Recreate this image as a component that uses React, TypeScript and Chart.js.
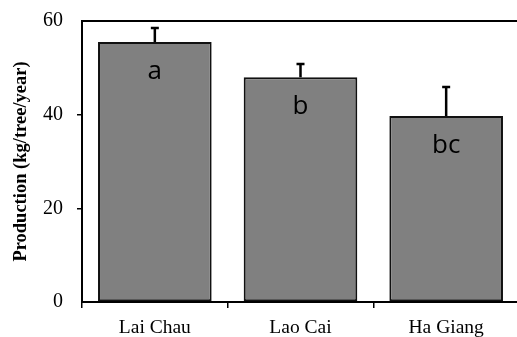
import React, { useEffect, useRef } from "react";
import { Chart, registerables } from "chart.js";

Chart.register(...registerables);

const categories = ["Lai Chau", "Lao Cai", "Ha Giang"];
const production = [55.5, 48.0, 39.7];
const errors = [3.0, 2.8, 6.2];
const letters = ["a", "b", "bc"];
const yTicks = [0, 20, 40, 60];

const extrasPlugin = {
  id: "extras",
  afterDatasetsDraw(chart: any) {
    const ctx = chart.ctx;
    const meta = chart.getDatasetMeta(0);
    const y = chart.scales.y;
    const area = chart.chartArea;
    ctx.save();
    ctx.strokeStyle = "#000";
    ctx.lineWidth = 2;
    ctx.beginPath();
    ctx.moveTo(area.left - 1, area.top);
    ctx.lineTo(chart.width, area.top);
    ctx.stroke();
    meta.data.forEach((bar: any, i: number) => {
      const top = y.getPixelForValue(production[i] + errors[i]);
      ctx.strokeStyle = "#000";
      ctx.lineWidth = 2.5;
      ctx.beginPath();
      ctx.moveTo(bar.x, bar.y);
      ctx.lineTo(bar.x, top);
      ctx.moveTo(bar.x - 4, top);
      ctx.lineTo(bar.x + 4, top);
      ctx.stroke();
      ctx.fillStyle = "#000";
      ctx.font = '26px "Open Sans"';
      ctx.textAlign = "center";
      ctx.textBaseline = "alphabetic";
      ctx.fillText(letters[i], bar.x, bar.y + 37);
    });
    ctx.restore();
  },
};

export default function App() {
  const ref = useRef<HTMLCanvasElement | null>(null);
  useEffect(() => {
    if (!ref.current) return;
    Chart.defaults.color = "#000";
    const chart = new Chart(ref.current, {
      type: "bar",
      data: {
        labels: categories,
        datasets: [
          {
            data: production,
            backgroundColor: "#808080",
            borderColor: "#111",
            borderWidth: 2,
            borderSkipped: false,
            barPercentage: 0.78,
            categoryPercentage: 1,
          },
        ],
      },
      options: {
        animation: false,
        responsive: true,
        maintainAspectRatio: false,
        layout: { padding: { top: 21, right: 3, left: 0, bottom: 0 } },
        plugins: { legend: { display: false }, tooltip: { enabled: false } },
        scales: {
          x: {
            offset: true,
            afterFit: (s: any) => {
              s.height = 35;
              s.paddingLeft = 0;
              s.paddingRight = 0;
            },
            grid: {
              offset: true,
              drawOnChartArea: false,
              drawTicks: true,
              tickLength: 6,
              color: "#000",
              lineWidth: 1.5,
            },
            border: { display: true, color: "#000", width: 2 },
            ticks: {
              padding: 8,
              font: { family: '"Liberation Serif"', size: 19.5 },
              color: "#000",
            },
          },
          y: {
            min: 0,
            max: 60,
            afterFit: (s: any) => {
              s.width = 82;
              s.paddingTop = 0;
              s.paddingBottom = 0;
            },
            afterBuildTicks: (s: any) => {
              s.ticks = yTicks.map((v) => ({ value: v }));
            },
            grid: {
              drawOnChartArea: false,
              drawTicks: true,
              tickLength: 5,
              lineWidth: 1.5,
              color: (c: any) =>
                c.tick && (c.tick.value === 20 || c.tick.value === 40) ? "#000" : "rgba(0,0,0,0)",
            },
            border: { display: true, color: "#000", width: 2 },
            ticks: {
              padding: 14,
              font: { family: '"Liberation Serif"', size: 20 },
              color: "#000",
            },
            title: {
              display: true,
              text: "Production (kg/tree/year)",
              font: { family: '"Liberation Serif"', size: 18.5, weight: "bold" },
              color: "#000",
              padding: { top: 10, bottom: 0 },
            },
          },
        },
      },
      plugins: [extrasPlugin],
    });
    return () => chart.destroy();
  }, []);
  return (
    <div style={{ position: "fixed", left: 0, top: 0, width: 522, height: 337 }}>
      <canvas ref={ref} />
    </div>
  );
}
